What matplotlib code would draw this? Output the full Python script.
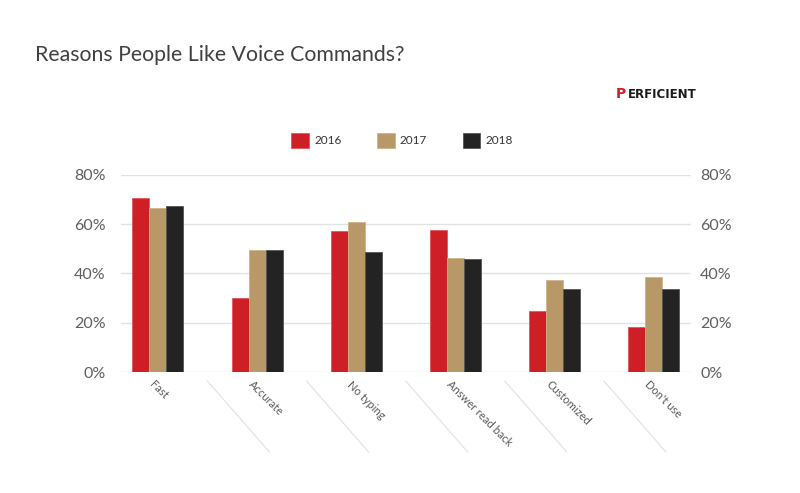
import matplotlib
matplotlib.use("Agg")
import matplotlib.pyplot as plt
import numpy as np
from matplotlib.patches import Patch
from matplotlib.transforms import offset_copy

categories = ["Fast", "Accurate", "No typing", "Answer read back", "Customized", "Don't use"]
years = ["2016", "2017", "2018"]
v2016 = [70.7, 30.0, 57.2, 57.5, 24.7, 18.4]
v2017 = [66.4, 49.6, 60.7, 46.4, 37.2, 38.5]
v2018 = [67.3, 49.6, 48.6, 46.0, 33.7, 33.7]
yticks = [0, 20, 40, 60, 80]
ytick_labels = ["0%", "20%", "40%", "60%", "80%"]

colors = ["#CD1F25", "#B79866", "#232323"]
edges = ["#E8555A", "#CDB48A", "#555555"]
series = [v2016, v2017, v2018]

plt.rcParams['font.family'] = ['Lato', 'DejaVu Sans']

fig = plt.figure(figsize=(8, 4.93), dpi=100)
ax = fig.add_axes([0.151, 0.2454, 0.713, 0.4])

x = np.arange(len(categories))
w = 0.1715
for k, (vals, c, ec) in enumerate(zip(series, colors, edges)):
    ax.bar(x + (k - 1) * w, vals, width=w, color=c, edgecolor=ec, linewidth=0.6, zorder=3)

ax.set_ylim(0, 80)
ax.set_xlim(-0.374, 5.38)
ax.set_yticks(yticks)
ax.set_yticklabels(ytick_labels)
ax.grid(axis='y', color='#e2e2e2', linewidth=1, zorder=0)
for s in ax.spines.values():
    s.set_visible(False)
ax.tick_params(axis='y', length=0, pad=11, labelsize=11.5, labelcolor='#5e5e5e')
ax.tick_params(axis='x', length=0, labelbottom=False)

ax2 = ax.twinx()
ax2.set_ylim(0, 80)
ax2.set_yticks(yticks)
ax2.set_yticklabels(ytick_labels)
for s in ax2.spines.values():
    s.set_visible(False)
ax2.tick_params(axis='y', length=0, pad=6.5, labelsize=11.5, labelcolor='#5e5e5e')

# category labels
for i, c in enumerate(categories):
    ax.annotate(c, xy=(i - 0.03, 0), xycoords='data', xytext=(0, -7),
                textcoords='offset pixels', rotation=-45, rotation_mode='anchor',
                ha='left', va='top', fontsize=8, color='#595959', annotation_clip=False)

# diagonal separators between categories
start_tr = offset_copy(ax.transData, fig=fig, x=0, y=-9, units='dots')
for i in range(len(categories) - 1):
    ax.annotate('', xy=(i + 0.5, 0), xycoords=start_tr, xytext=(62, -71),
                textcoords='offset pixels',
                arrowprops=dict(arrowstyle='-', color='#e4e4e4', lw=0.9,
                                shrinkA=0, shrinkB=0),
                annotation_clip=False)

# title
fig.text(0.044, 0.888, "Reasons People Like Voice Commands?", fontsize=15.3,
         color='#404040', ha='left', va='center')

# legend
handles = [Patch(facecolor=c, edgecolor=ec, linewidth=0.6) for c, ec in zip(colors, edges)]
fig.legend(handles, years, loc='center', bbox_to_anchor=(0.5025, 0.715), ncol=3,
           frameon=False, fontsize=8.5, handlelength=1.5, handleheight=1.5,
           handletextpad=0.45, columnspacing=3.0, labelcolor='#333333')

# logo
logo_fam = ['Liberation Sans Narrow', 'DejaVu Sans']
fig.text(0.77, 0.809, "P", fontsize=10, fontweight='bold', color='#CD1F25',
         ha='left', va='center', family=logo_fam)
fig.text(0.7845, 0.809, "ERFICIENT", fontsize=8.5, fontweight='bold', color='#1a1a1a',
         ha='left', va='center', family=logo_fam)

fig.savefig("out.png", dpi=100)
